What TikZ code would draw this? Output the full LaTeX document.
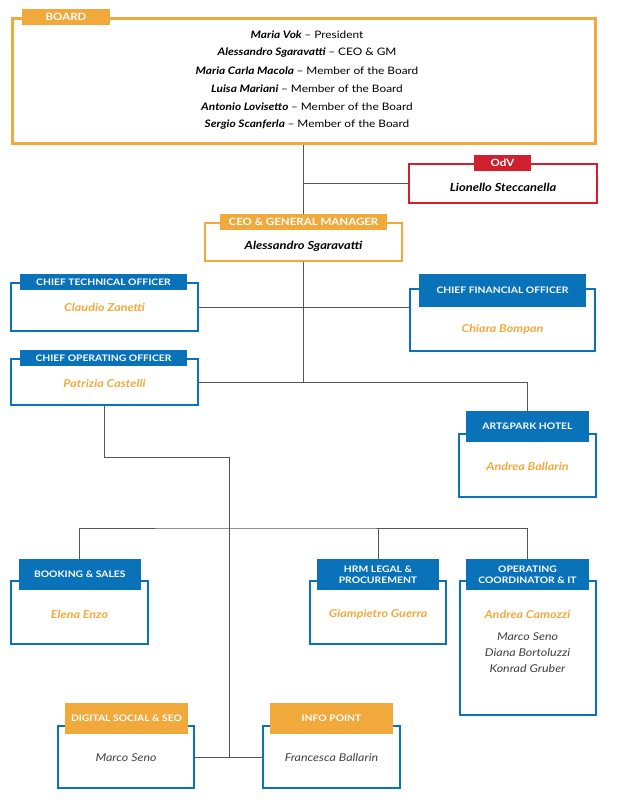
\documentclass[tikz,border=0pt]{standalone}
\usepackage{fontspec}
\setmainfont{Lato}[FakeStretch=1.15]
\usetikzlibrary{positioning}

\definecolor{boardorange}{HTML}{F2A93B}
\definecolor{odvred}{HTML}{D0202F}
\definecolor{chartblue}{HTML}{0A72B8}
\definecolor{linegray}{HTML}{555555}

\tikzset{
  box/.style={draw=chartblue, line width=2.4pt, inner sep=0pt},
  tab/.style={fill=chartblue, text=white, inner sep=0pt, align=center,
    font=\bfseries\fontsize{9}{11.5}\selectfont},
  bigtab/.style={tab, fill=boardorange, font=\bfseries\fontsize{10}{12}\selectfont},
  head/.style={font=\bfseries\itshape\fontsize{11.2}{13}\selectfont},
  boss/.style={text=boardorange, font=\bfseries\itshape\fontsize{10.9}{13}\selectfont},
  staff/.style={text=black!75, font=\itshape\fontsize{10.8}{13}\selectfont},
  boardline/.style={font=\fontsize{10.3}{12}\selectfont},
  link/.style={draw=linegray, line width=0.9pt}
}

\begin{document}
\begin{tikzpicture}[x=1pt, y=-1pt]
    \useasboundingbox (0,0) rectangle (616,800);
    % board
    \node[draw=boardorange, line width=3pt, inner sep=0pt, minimum width=583pt, minimum height=125pt] (board) at (303.5,81) {};
    \node[bigtab, minimum width=88pt, minimum height=16pt] (boardtab) at (66,17) {BOARD};
    \node[boardline] (b1) at (307,35) {\bfseries\itshape Maria Vok \normalfont\mdseries -- President};
    \node[boardline] (b2) at (307,53) {\bfseries\itshape Alessandro Sgaravatti \normalfont\mdseries -- CEO \& GM};
    \node[boardline] (b3) at (307,71) {\bfseries\itshape Maria Carla Macola \normalfont\mdseries -- Member of the Board};
    \node[boardline] (b4) at (307,89) {\bfseries\itshape Luisa Mariani \normalfont\mdseries -- Member of the Board};
    \node[boardline] (b5) at (307,107) {\bfseries\itshape Antonio Lovisetto \normalfont\mdseries -- Member of the Board};
    \node[boardline] (b6) at (307,125) {\bfseries\itshape Sergio Scanferla \normalfont\mdseries -- Member of the Board};
    % odv
    \node[draw=odvred, line width=2.4pt, inner sep=0pt, minimum width=188pt, minimum height=39pt] (odv) at (503,183.5) {};
    \node[bigtab, fill=odvred, minimum width=57pt, minimum height=16pt] (odvtab) at (502.5,163) {OdV};
    \node[head] (odvname) at (503,187) {Lionello Steccanella};
    % ceo
    \node[draw=boardorange, line width=2.4pt, inner sep=0pt, minimum width=197pt, minimum height=38pt] (ceo) at (303.5,242) {};
    \node[bigtab, minimum width=167pt, minimum height=16pt] (ceotab) at (303.5,222) {CEO \& GENERAL MANAGER};
    \node[head] (ceoname) at (303.5,246) {Alessandro Sgaravatti};
    % chiefs
    \node[box, minimum width=187pt, minimum height=48pt] (cto) at (104.5,307) {};
    \node[tab, minimum width=167pt, minimum height=16pt] (ctotab) at (103.5,282) {CHIEF TECHNICAL OFFICER};
    \node[boss] (ctoname) at (104.5,307) {Claudio Zanetti};
    \node[box, minimum width=185pt, minimum height=62pt] (cfo) at (502.5,320) {};
    \node[tab, minimum width=167pt, minimum height=33pt] (cfotab) at (502.5,290.5) {CHIEF FINANCIAL OFFICER};
    \node[boss] (cfoname) at (502.5,329) {Chiara Bompan};
    \node[box, minimum width=187pt, minimum height=46pt] (coo) at (104.5,382) {};
    \node[tab, minimum width=167pt, minimum height=16pt] (cootab) at (103.5,358) {CHIEF OPERATING OFFICER};
    \node[boss] (cooname) at (104.5,383) {Patrizia Castelli};
    \node[box, minimum width=137pt, minimum height=63pt] (art) at (527.5,465.5) {};
    \node[tab, minimum width=123pt, minimum height=31pt] (arttab) at (527.5,426.5) {ART\&PARK HOTEL};
    \node[boss] (artname) at (527.5,466) {Andrea Ballarin};
    % departments
    \node[box, minimum width=137pt, minimum height=63pt] (booking) at (79.5,612.5) {};
    \node[tab, minimum width=122pt, minimum height=31pt] (bookingtab) at (79.75,574.5) {BOOKING \& SALES};
    \node[boss] (bookingname) at (79.5,614) {Elena Enzo};
    \node[box, minimum width=136pt, minimum height=63pt] (hrm) at (378,612.5) {};
    \node[tab, minimum width=122pt, minimum height=31pt] (hrmtab) at (378,574.5) {HRM LEGAL \&\\PROCUREMENT};
    \node[boss] (hrmname) at (378,614) {Giampietro Guerra};
    \node[box, minimum width=136pt, minimum height=134pt] (opc) at (528,648) {};
    \node[tab, minimum width=123pt, minimum height=31pt] (opctab) at (527.5,574.5) {OPERATING\\COORDINATOR \& IT};
    \node[boss] (opcname) at (527.5,614) {Andrea Camozzi};
    \node[staff] (opc1) at (527.5,637) {Marco Seno};
    \node[staff] (opc2) at (527.5,653) {Diana Bortoluzzi};
    \node[staff] (opc3) at (527.5,669) {Konrad Gruber};
    \node[box, minimum width=136.5pt, minimum height=62pt] (digital) at (126,757) {};
    \node[tab, fill=boardorange, minimum width=123pt, minimum height=31pt] (digitaltab) at (126.5,718.5) {DIGITAL SOCIAL \& SEO};
    \node[staff] (digitalname) at (126,758) {Marco Seno};
    \node[box, minimum width=137pt, minimum height=62pt] (info) at (331.5,757) {};
    \node[tab, fill=boardorange, minimum width=123pt, minimum height=31pt] (infotab) at (331.5,718.5) {INFO POINT};
    \node[staff] (infoname) at (331.5,758) {Francesca Ballarin};
    % connectors
    \coordinate (cooturn) at (229,457);
    \coordinate (bus) at (229,528);
    \coordinate (lowend) at (229,757);
    \draw[link] (board.south) -- (ceotab.north);
    \draw[link] (board.south |- odv.west) -- (odv.west);
    \draw[link] (ceo.south) -- (ceo.south |- coo.east);
    \draw[link] (cto.east) -- (cto.east -| cfo.west);
    \draw[link] (coo.east) -| (arttab.north);
    \draw[link] (coo.south) |- (cooturn) -- (lowend);
    \draw[link] (bookingtab.north) |- (bus) -| (opctab.north);
    \draw[link] (hrmtab.north) -- (hrmtab.north |- bus);
    \draw[link] (digital.east) -- (info.west);
\end{tikzpicture}
\end{document}
